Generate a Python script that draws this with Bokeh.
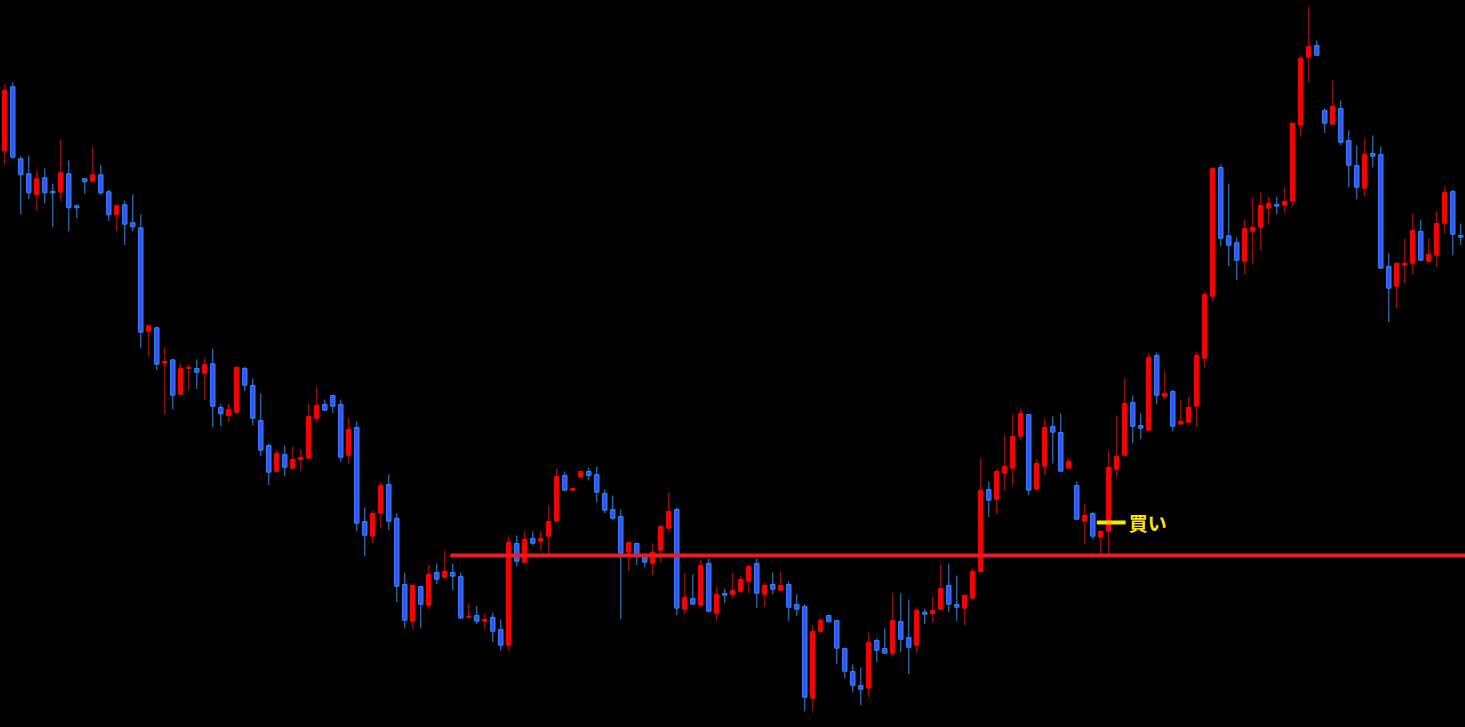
from bokeh.plotting import figure
from bokeh.models import Range1d, ColumnDataSource, GlobalInlineStyleSheet
from bokeh.core.properties import value
from bokeh.embed import file_html
from bokeh.resources import INLINE

# Price levels (chart level units; smaller = higher on screen)
opens = [150.5, 86.3, 158.3, 173.3, 194.3, 177.3, 191, 191.7, 173.3, 205.3,
         178.3, 180.7, 174.3, 191.3, 214.3, 204.3, 222.3, 227.3, 330.7, 327.3,
         362.7, 359.3, 393.7, 368, 368, 372.7, 363.3, 407, 415, 411.7,
         368, 385, 420, 445, 470.7, 454, 467.7, 459, 457.7, 417.7,
         404, 395, 404, 454.7, 427, 521, 535.7, 512.7, 484, 518,
         584, 620.7, 586, 604.7, 572, 576.7, 572, 576, 616.7, 615,
         620.7, 617, 629, 644.7, 543, 561.7, 538, 540.7, 535.7, 520.7,
         475, 489.7, 476.7, 471, 474, 493, 509, 516, 551.7, 543,
         555, 562.7, 549.7, 527.7, 509, 608.7, 598, 604.7, 563, 612.7,
         593, 594, 590.7, 580.7, 563, 593.7, 584, 589.7, 584, 604,
         606, 697.7, 630.7, 615, 620, 648, 671, 685, 687.7, 640,
         648, 652.7, 621, 637, 644.7, 611.7, 613, 608.7, 585, 604,
         607.7, 597.7, 571, 489, 498.7, 472.7, 467.7, 435.7, 414, 488.7,
         465.7, 426, 432, 467.7, 485, 520.7, 513, 536.7, 530.7, 468.7,
         454.7, 402, 425, 429.7, 355, 395.7, 391, 423.7, 421.7, 405.7,
         357.7, 295.7, 167, 235.3, 242.3, 260.7, 230.7, 226.7, 207.7, 204,
         204.7, 200.7, 124.7, 56.7, 45, 110, 123.7, 108, 140, 165,
         187.7, 153, 154, 266, 285.7, 264.7, 262.7, 231, 260.7, 254.7,
         222.7, 191, 235]
highs = [84, 82, 156, 155, 170, 168, 183, 139, 160, 204.3,
         178, 147, 164, 189.3, 205, 200, 194, 214, 325, 326,
         347, 359, 363, 364, 359, 358, 348, 404, 403, 367,
         366, 378, 393, 443, 450, 445, 446, 449, 403, 387,
         399, 395, 399, 417.7, 421, 506.7, 510, 482, 474, 513,
         572, 584, 586, 564, 563, 550, 563, 572, 603.7, 605.7,
         612.7, 612, 619, 536, 535, 531, 531, 531, 505, 468,
         471, 488, 471, 467, 466, 489, 495, 509, 542, 543,
         553, 543, 525, 492, 507, 573, 574, 559, 558, 586,
         588, 572, 575, 564, 558, 582, 572, 571, 581, 594,
         604, 625, 617.7, 615, 620, 647, 664, 667, 632, 638,
         628, 592.7, 592.7, 599, 606.7, 608, 596, 564, 563, 575,
         595, 568, 458, 481, 468, 435, 414, 408, 414, 459,
         418, 416, 413, 458, 481, 504, 512, 531, 450, 415,
         378, 395, 413, 353, 352, 371, 389, 400, 396, 351,
         291, 168, 164, 183, 237, 219, 197, 192, 196, 196,
         187, 123, 55, 6, 40, 108, 80, 100, 130, 145,
         138, 135, 146, 253, 263, 238, 213, 219, 238, 211,
         186, 189, 223]
lows = [164, 158.3, 213.7, 198.7, 210, 202.7, 226.7, 200.7, 230.7, 217.7,
        193.3, 180.7, 194.3, 220.7, 230.7, 244.7, 230.7, 347.7, 355.7, 369.7,
        413.7, 408.7, 394.7, 389.7, 388.7, 399.7, 426.7, 425.7, 421.7, 412.7,
        390.7, 424.7, 455.7, 484.7, 471.7, 475.7, 467.7, 470.7, 457.7, 421.7,
        410.7, 412.7, 460.7, 463.7, 530.7, 555.7, 542.7, 527.7, 529.7, 601.7,
        627.7, 628.7, 627.7, 608.7, 583.7, 578.7, 589.7, 617.7, 617.7, 623.7,
        628.7, 641.7, 650, 650, 565.7, 563.7, 544.7, 549.7, 553.7, 520.7,
        490.7, 490.7, 476.7, 480, 501.7, 512.7, 519.7, 618.7, 570.7, 564.7,
        566.7, 574.7, 561.7, 531.7, 614.7, 613.7, 603.7, 606.7, 611.7, 620,
        602.7, 598, 592.7, 592.7, 607.7, 606.7, 593.7, 589.7, 620.7, 615.7,
        710.7, 710.7, 631.7, 621.3, 663.7, 677.7, 691.7, 704.7, 696.7, 661.7,
        652.7, 655.7, 651.7, 673.7, 652.7, 623.7, 621.7, 608.7, 611.7, 620.7,
        624.7, 600, 571, 516.7, 513.7, 489.7, 484.7, 439.7, 494.7, 489.7,
        474.7, 462.7, 470.7, 467.7, 518.7, 543.7, 538.7, 555, 555, 475.7,
        454.7, 442.7, 438.7, 429.7, 403.7, 398.7, 430.7, 423.7, 421.7, 426.7,
        367.7, 300.7, 245.7, 265.7, 279.7, 273.7, 263.7, 249.7, 223.7, 213.7,
        212.7, 205.7, 135.7, 81.7, 55.7, 132.7, 124.7, 144.7, 186.7, 198.7,
        195.7, 166.7, 267.7, 321.7, 307.7, 282.7, 273.7, 259.7, 262.7, 266.7,
        232.7, 254.7, 244.7]
closes = [90, 156.7, 174.3, 192.3, 178.3, 192.3, 192.3, 172.3, 207.3, 207.3,
          181.3, 174.3, 192.3, 214.3, 205.3, 223.7, 226.3, 331.7, 325.3, 363.7,
          361, 394.7, 368, 367, 371.7, 364, 405.7, 413.3, 409, 367,
          384.7, 417.7, 449.7, 471.7, 453, 466.7, 459, 457, 416, 405,
          409.7, 405.7, 456.7, 429, 522.7, 534.7, 513, 485, 520.7, 585.7,
          619.7, 585, 603.7, 574, 578.7, 571, 575.7, 617.7, 615.7, 620.7,
          619, 630.7, 644.7, 542, 560.7, 539, 542.7, 538, 521, 476,
          489.7, 488, 471, 475, 491.7, 509.7, 517.7, 552.7, 542, 556,
          561.7, 551.7, 526, 511, 607.7, 597, 603.7, 565, 610.7, 594,
          594.7, 590, 579, 566, 592.7, 585, 588.7, 585, 606.7, 608.7,
          696.7, 631, 619.7, 621.3, 647.7, 670.7, 684.7, 688.7, 642, 649.7,
          652.7, 620, 638.7, 646.7, 610, 613.7, 610, 588, 603.7, 606.7,
          595, 571, 490, 499.7, 471, 466, 436, 413, 489.7, 463,
          427, 431.7, 470.7, 461, 518.7, 515, 535.7, 531, 467, 456,
          403, 425.7, 427.7, 357, 394.7, 393, 425.7, 421, 407, 355,
          294, 168, 237.7, 244.7, 259.7, 228, 227, 205, 203, 205.7,
          201, 123, 58, 46, 54.7, 122.7, 106, 141.7, 164.7, 186.7,
          154, 155.7, 267.7, 287.7, 263, 263, 230, 259.7, 254, 223,
          192, 233.7, 236.7]

support_level = 555          # horizontal red level
support_start = 55.7         # candle index where the level begins
signal_level = 522           # yellow "buy" marker level
signal_start = 136.5
signal_end = 140.1
signal_label = "買い"

n = len(opens)
idx = list(range(n))
up = [c < o for o, c in zip(opens, closes)]  # smaller level = higher price

RED = "#FF0000"
BLUE_FILL = "#3C50FF"
BLUE_LINE = "#1E90FF"

src = ColumnDataSource(dict(
    x=idx,
    high=highs,
    low=lows,
    top=[min(o, c) for o, c in zip(opens, closes)],
    bottom=[max(o, c) for o, c in zip(opens, closes)],
    wick=[RED if u else BLUE_LINE for u in up],
    fill=[RED if u else BLUE_FILL for u in up],
    edge=[RED if u else BLUE_LINE for u in up],
))

W, H = 1465, 727
step = 8.0
x0 = -4.3 / step
p = figure(width=W, height=H, output_backend="svg", toolbar_location=None,
           x_range=Range1d(x0, x0 + W / step), y_range=Range1d(H, 0),
           min_border=0, min_border_left=0, min_border_right=0,
           min_border_top=0, min_border_bottom=0)
p.axis.visible = False
p.grid.visible = False
p.outline_line_color = None
p.background_fill_color = "black"
p.border_fill_color = "black"

p.segment(x0="x", y0="high", x1="x", y1="low", line_color="wick", line_width=1, source=src)
p.vbar(x="x", top="top", bottom="bottom", width=0.55, fill_color="fill",
       line_color="edge", line_width=1, source=src)

p.segment(x0=[support_start], y0=[support_level], x1=[n + 2], y1=[support_level],
          line_color="#ED1C24", line_width=4)
p.segment(x0=[signal_start], y0=[signal_level], x1=[signal_end], y1=[signal_level],
          line_color="#FFE600", line_width=4)
p.text(x=[signal_end + 0.4], y=[signal_level], text=[signal_label],
       text_color="#FFE600", text_font=value("Noto Sans CJK JP"),
       text_font_style="bold", text_font_size="19px",
       text_baseline="middle", text_align="left")

p.stylesheets = [GlobalInlineStyleSheet(
    css="html, body {margin:0 !important; padding:0; background:#000; overflow:hidden;}")]

open("out.html", "w").write(file_html(p, INLINE))
